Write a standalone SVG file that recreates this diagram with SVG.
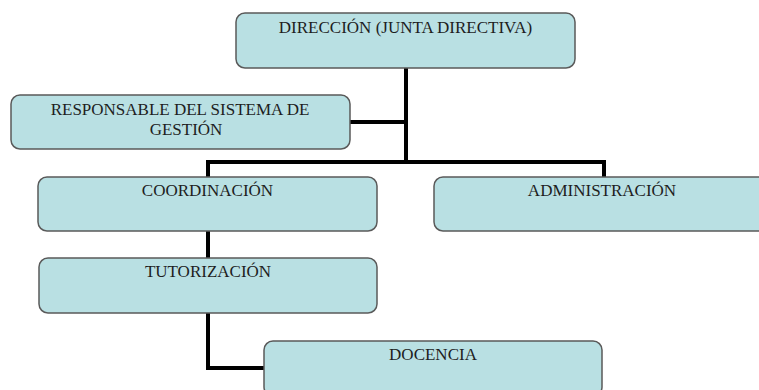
<svg xmlns="http://www.w3.org/2000/svg" width="759" height="390" viewBox="0 0 759 390">
<style>
.box{fill:#b9e0e3;stroke:#5a5a5a;stroke-width:1.5}
.lbl{font-family:'Liberation Serif','Times New Roman',serif;font-size:17px;fill:#1e1e1e;text-anchor:middle}
.con{fill:none;stroke:#000;stroke-width:4}
</style>
<rect width="759" height="390" fill="#fff"/>
<g id="connectors">
<path class="con" d="M406 68V162"/>
<path class="con" d="M350 122H406"/>
<path class="con" d="M208 177V162H604V177"/>
<path class="con" d="M208 231V258"/>
<path class="con" d="M208 313V368H264"/>
</g>
<g id="direccion">
<rect class="box" x="236" y="13" width="339" height="55" rx="9"/>
<text class="lbl" x="405.5" y="33">DIRECCIÓN (JUNTA DIRECTIVA)</text>
</g>
<g id="responsable">
<rect class="box" x="11" y="95" width="339" height="54" rx="9"/>
<text class="lbl" x="180" y="115">RESPONSABLE DEL SISTEMA DE</text>
<text class="lbl" x="186" y="135">GESTIÓN</text>
</g>
<g id="coordinacion">
<rect class="box" x="38" y="177" width="339" height="54" rx="9"/>
<text class="lbl" x="207.5" y="196">COORDINACIÓN</text>
</g>
<g id="administracion">
<rect class="box" x="434" y="177" width="339" height="54" rx="9"/>
<text class="lbl" x="602" y="196">ADMINISTRACIÓN</text>
</g>
<g id="tutorizacion">
<rect class="box" x="39" y="258" width="338" height="55" rx="9"/>
<text class="lbl" x="208" y="277">TUTORIZACIÓN</text>
</g>
<g id="docencia">
<rect class="box" x="264" y="341" width="338" height="55" rx="9"/>
<text class="lbl" x="433" y="360">DOCENCIA</text>
</g>
</svg>
